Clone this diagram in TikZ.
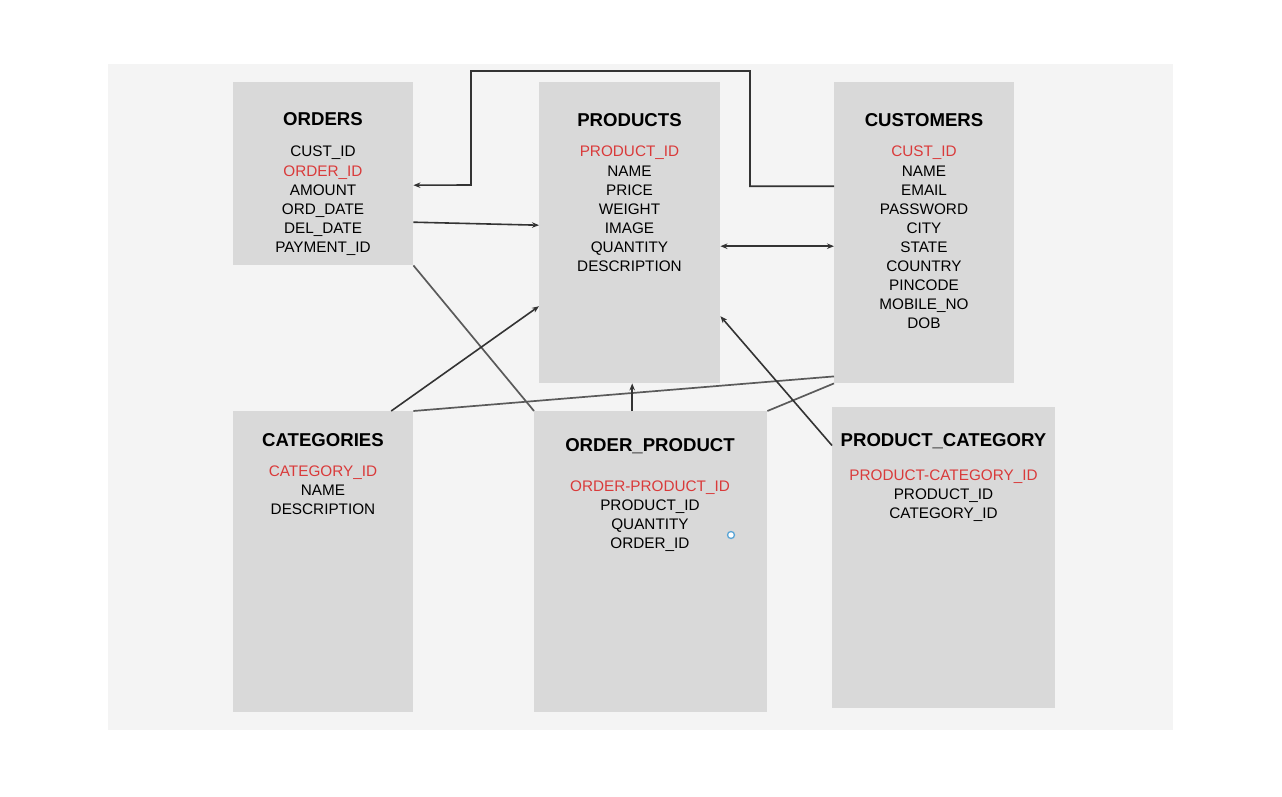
\documentclass[tikz,border=0pt]{standalone}
\usepackage{fontspec}
\setmainfont{Liberation Sans}
\usetikzlibrary{arrows.meta}
\definecolor{panel}{HTML}{F4F4F4}
\definecolor{boxgray}{HTML}{D9D9D9}
\definecolor{keyred}{HTML}{D93A3A}
\definecolor{linkgray}{HTML}{5A5A5A}
\definecolor{dotblue}{HTML}{5AA5D6}

\begin{document}
\begin{tikzpicture}[x=1pt,y=-1pt,>={Stealth[length=7pt,width=5.5pt]},
  tbl/.style={fill=boxgray, inner sep=0pt, anchor=north west},
  ttl/.style={font=\fontsize{18.6}{19}\selectfont\bfseries, anchor=base, inner sep=0pt},
  fld/.style={font=\fontsize{15.3}{19}\selectfont, anchor=base, inner sep=0pt},
  key/.style={fld, text=keyred},
  link/.style={draw=linkgray, line width=1.7pt},
  arr/.style={draw=black!80, line width=1.6pt}]
 \useasboundingbox (0,0) rectangle (1282,797);
 \fill[panel] (108,64) rectangle (1173,730);

 % tables
 \node (ORD) [tbl, minimum width=180pt, minimum height=183pt] at (233,82) {};
 \node [ttl] at (323,125) {ORDERS};
 \node [fld] at (323,157) {CUST\_ID};
 \node [key] at (323,176) {ORDER\_ID};
 \foreach \f [count=\i] in {AMOUNT,ORD\_DATE,DEL\_DATE,PAYMENT\_ID}
   \node [fld] at (323,{176+19*\i}) {\f};

 \node (PRD) [tbl, minimum width=181pt, minimum height=301pt] at (539,82) {};
 \node [ttl] at (629.5,127) {PRODUCTS};
 \node [key] at (629.5,157) {PRODUCT\_ID};
 \foreach \f [count=\i] in {NAME,PRICE,WEIGHT,IMAGE,QUANTITY,DESCRIPTION}
   \node [fld] at (629.5,{157+19*\i}) {\f};

 \node (CUS) [tbl, minimum width=180pt, minimum height=301pt] at (834,82) {};
 \node [ttl] at (924,127) {CUSTOMERS};
 \node [key] at (924,157) {CUST\_ID};
 \foreach \f [count=\i] in {NAME,EMAIL,PASSWORD,CITY,STATE,COUNTRY,PINCODE,MOBILE\_NO,DOB}
   \node [fld] at (924,{157+19*\i}) {\f};

 \node (CAT) [tbl, minimum width=180pt, minimum height=301pt] at (233,411) {};
 \node [ttl] at (323,446) {CATEGORIES};
 \node [key] at (323,476) {CATEGORY\_ID};
 \foreach \f [count=\i] in {NAME,DESCRIPTION}
   \node [fld] at (323,{476+19*\i}) {\f};

 \node (OP) [tbl, minimum width=233pt, minimum height=301pt] at (534,411) {};
 \node [ttl] at (650,451) {ORDER\_PRODUCT};
 \node [key] at (650,491) {ORDER-PRODUCT\_ID};
 \foreach \f [count=\i] in {PRODUCT\_ID,QUANTITY,ORDER\_ID}
   \node [fld] at (650,{491+19*\i}) {\f};

 \node (PC) [tbl, minimum width=223pt, minimum height=301pt] at (832,407) {};
 \node [ttl] at (943.5,446) {PRODUCT\_CATEGORY};
 \node [key] at (943.5,480) {PRODUCT-CATEGORY\_ID};
 \foreach \f [count=\i] in {PRODUCT\_ID,CATEGORY\_ID}
   \node [fld] at (943.5,{480+19*\i}) {\f};

 \node (dot) [circle, draw=dotblue, fill=white, line width=1.3pt, inner sep=0pt, minimum size=7pt] at (731,535) {};

 % links
 \draw [arr, ->] ([yshift=46.5pt]CUS.west) -| (750,71) -| (471,185) -- ([yshift=-11.5pt]ORD.east);
 \path [arr] ([yshift=-48.5pt]ORD.east) edge [->] ([yshift=7.5pt]PRD.west);
 \path [arr] ([yshift=-13.5pt]PRD.east) edge [<->] ([yshift=-13.5pt]CUS.west);
 \path [link] (ORD.south east) edge (OP.north west);
 \path [arr] ([xshift=68pt]CAT.north) edge [->] ([yshift=-73.5pt]PRD.west);
 \path [link] (CAT.north east) edge ([yshift=7pt]CUS.south west);
 \path [arr] ([xshift=-18.5pt]OP.north) edge [->] ([xshift=-18.5pt]OP.north |- PRD.south);
 \path [link] (OP.north east) edge (CUS.south west);
 \path [arr] ([yshift=-38.5pt]PC.north west) edge [->] ([yshift=-83.5pt]PRD.east);
\end{tikzpicture}
\end{document}
